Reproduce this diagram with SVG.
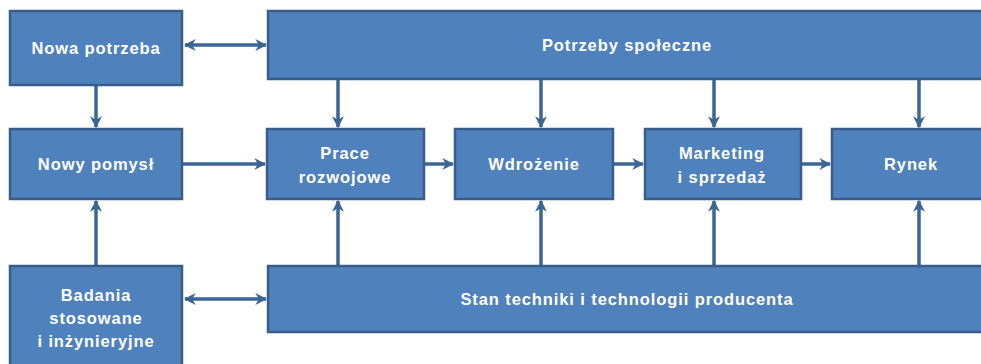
<svg xmlns="http://www.w3.org/2000/svg" width="981" height="364" viewBox="0 0 981 364">
<style>
.box{fill:#4F81BD;stroke:#385D8A;stroke-width:2.5}
.t{font-family:"Liberation Sans",Arial,sans-serif;font-weight:bold;font-size:16.5px;letter-spacing:0.9px;fill:#FFFFFF;text-anchor:middle}
.c{stroke:#3A6595;stroke-width:3.5;fill:none}
</style>
<defs>
<marker id="ah" viewBox="0 0 10 10" refX="9" refY="5" markerWidth="3.4" markerHeight="3.4" orient="auto-start-reverse" markerUnits="strokeWidth">
<path d="M0,0 L10,5 L0,10 L3,5 Z" fill="#3A6595"/>
</marker>
</defs>
<rect width="981" height="364" fill="#FFFFFF"/>
<g id="connectors">
<line class="c" x1="185" y1="45" x2="266" y2="45" marker-start="url(#ah)" marker-end="url(#ah)"/>
<line class="c" x1="185" y1="299" x2="266" y2="299" marker-start="url(#ah)" marker-end="url(#ah)"/>
<line class="c" x1="96" y1="85" x2="96" y2="127" marker-end="url(#ah)"/>
<line class="c" x1="96" y1="266" x2="96" y2="201" marker-end="url(#ah)"/>
<line class="c" x1="182" y1="164" x2="265" y2="164" marker-end="url(#ah)"/>
<line class="c" x1="424" y1="164" x2="453" y2="164" marker-end="url(#ah)"/>
<line class="c" x1="613" y1="164" x2="643" y2="164" marker-end="url(#ah)"/>
<line class="c" x1="801" y1="164" x2="830" y2="164" marker-end="url(#ah)"/>
<line class="c" x1="338" y1="80" x2="338" y2="127" marker-end="url(#ah)"/>
<line class="c" x1="541" y1="80" x2="541" y2="127" marker-end="url(#ah)"/>
<line class="c" x1="714" y1="80" x2="714" y2="127" marker-end="url(#ah)"/>
<line class="c" x1="919" y1="80" x2="919" y2="127" marker-end="url(#ah)"/>
<line class="c" x1="338" y1="266" x2="338" y2="201" marker-end="url(#ah)"/>
<line class="c" x1="541" y1="266" x2="541" y2="201" marker-end="url(#ah)"/>
<line class="c" x1="714" y1="266" x2="714" y2="201" marker-end="url(#ah)"/>
<line class="c" x1="919" y1="266" x2="919" y2="201" marker-end="url(#ah)"/>
</g>
<g id="nowa-potrzeba"><rect class="box" x="10" y="11" width="172" height="74"/><text class="t" x="96" y="54">Nowa potrzeba</text></g>
<g id="potrzeby-spoleczne"><rect class="box" x="268" y="11" width="720" height="68"/><text class="t" x="627" y="51">Potrzeby społeczne</text></g>
<g id="nowy-pomysl"><rect class="box" x="10" y="129" width="172" height="70"/><text class="t" x="96" y="170">Nowy pomysł</text></g>
<g id="prace-rozwojowe"><rect class="box" x="267" y="129" width="157" height="70"/><text class="t" x="345" y="159">Prace</text><text class="t" x="345" y="183">rozwojowe</text></g>
<g id="wdrozenie"><rect class="box" x="455" y="129" width="158" height="70"/><text class="t" x="534" y="170">Wdrożenie</text></g>
<g id="marketing"><rect class="box" x="645" y="129" width="156" height="70"/><text class="t" x="722" y="159">Marketing</text><text class="t" x="722" y="183">i sprzedaż</text></g>
<g id="rynek"><rect class="box" x="832" y="129" width="156" height="70"/><text class="t" x="911" y="170">Rynek</text></g>
<g id="badania"><rect class="box" x="10" y="266" width="172" height="104"/><text class="t" x="96" y="301">Badania</text><text class="t" x="96" y="324">stosowane</text><text class="t" x="96" y="347">i inżynieryjne</text></g>
<g id="stan-techniki"><rect class="box" x="268" y="266" width="720" height="66"/><text class="t" x="627" y="305">Stan techniki i technologii producenta</text></g>
</svg>
